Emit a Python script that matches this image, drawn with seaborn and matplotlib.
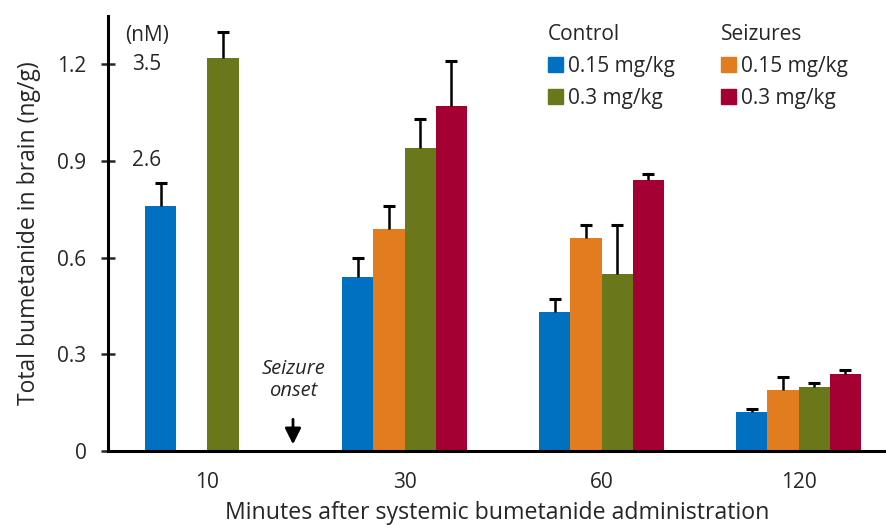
import numpy as np
import pandas as pd
import matplotlib
matplotlib.use("Agg")
import matplotlib.pyplot as plt
from matplotlib.patches import Patch
import seaborn as sns

# ---- data ----
minutes = ["10", "30", "60", "120"]
groups = ["Control 0.15", "Seizures 0.15", "Control 0.3", "Seizures 0.3"]
legend_labels = ["0.15 mg/kg", "0.15 mg/kg", "0.3 mg/kg", "0.3 mg/kg"]
ctrl_015 = [0.76, 0.54, 0.43, 0.12]
seiz_015 = [np.nan, 0.69, 0.66, 0.19]
ctrl_03 = [1.22, 0.94, 0.55, 0.20]
seiz_03 = [np.nan, 1.07, 0.84, 0.24]
ctrl_015_err = [0.07, 0.06, 0.04, 0.01]
seiz_015_err = [np.nan, 0.07, 0.04, 0.04]
ctrl_03_err = [0.08, 0.09, 0.15, 0.01]
seiz_03_err = [np.nan, 0.14, 0.02, 0.01]
y_ticks = [0, 0.3, 0.6, 0.9, 1.2]
y_tick_labels = ["0", "0.3", "0.6", "0.9", "1.2"]
nm_labels = ["(nM)", "3.5", "2.6"]
nm_values = [None, 1.2, 0.9]
colors = ["#0070C0", "#E27D1F", "#6A771B", "#A50034"]

values = [ctrl_015, seiz_015, ctrl_03, seiz_03]
errors = [ctrl_015_err, seiz_015_err, ctrl_03_err, seiz_03_err]

rows = []
for g, vals, errs in zip(groups, values, errors):
    for m, v, e in zip(minutes, vals, errs):
        if not np.isnan(v):
            rows.append({"Minutes": m, "Group": g, "Value": v, "Err": e})
df = pd.DataFrame(rows)

sns.set_style("white")
plt.rcParams["font.family"] = ["Open Sans", "DejaVu Sans"]

FS = 15

fig = plt.figure(figsize=(8.86, 5.25), dpi=100)
ax = fig.add_axes([108 / 886, 74 / 525, 778 / 886, 435 / 525])

sns.barplot(data=df, x="Minutes", y="Value", hue="Group", order=minutes,
            hue_order=groups, palette=colors, width=0.63, errorbar=None,
            saturation=1, linewidth=0, ax=ax, legend=False)

# error bars (upper only) placed at the bars drawn by seaborn
bar_containers = list(ax.containers)
for gi, cont in enumerate(bar_containers):
    g = groups[gi]
    sub = df[df["Group"] == g]
    present = [m for m in minutes if m in set(sub["Minutes"])]
    sub = sub.set_index("Minutes").reindex(present)
    for bar, (m, r) in zip(cont, sub.iterrows()):
        xc = bar.get_x() + bar.get_width() / 2
        h = bar.get_height()
        eb = ax.errorbar([xc], [h], yerr=[[0], [r["Err"]]], fmt="none",
                         ecolor="black", elinewidth=1.8, capsize=4.3,
                         capthick=2.2, zorder=3)
        for cl in eb[1]:
            if np.allclose(cl.get_ydata(), h):
                cl.set_visible(False)

ax.set_xlim(-0.505, 3.444)
ax.set_ylim(0, 1.349)
ax.set_yticks(y_ticks)
ax.set_yticklabels(y_tick_labels)
ax.tick_params(axis="y", direction="inout", length=10, width=1.8,
               labelsize=FS, pad=10.5, left=True)
ax.tick_params(axis="x", length=0, labelsize=FS, pad=15)
for s in ["top", "right"]:
    ax.spines[s].set_visible(False)
for s in ["left", "bottom"]:
    ax.spines[s].set_linewidth(2.2)
    ax.spines[s].set_color("black")
ax.set_xlabel("Minutes after systemic bumetanide administration",
              fontsize=16.7, labelpad=6)
ax.set_ylabel("Total bumetanide in brain (ng/g)", fontsize=16.5, labelpad=12)

# secondary nM labels
ax.text(-0.307, 1.289, nm_labels[0], ha="center", va="center", fontsize=FS)
for lab, v in zip(nm_labels[1:], nm_values[1:]):
    ax.text(-0.307, v, lab, ha="center", va="center", fontsize=FS)

# seizure onset annotation
ax.text(0.434, 0.22, "Seizure\nonset", ha="center", va="center",
        fontsize=14.5, style="italic", linespacing=1.15)
ax.annotate("", xy=(0.434, 0.012), xytext=(0.434, 0.107),
            arrowprops=dict(arrowstyle="-|>", color="black", lw=2,
                            mutation_scale=24))

# legends
h1 = [Patch(color=colors[0]), Patch(color=colors[2])]
h2 = [Patch(color=colors[1]), Patch(color=colors[3])]
common = dict(loc="upper left", frameon=False, fontsize=FS, title_fontsize=FS,
              handlelength=0.72, handleheight=0.72, handletextpad=0.25,
              labelspacing=0.52, borderpad=0, borderaxespad=0,
              alignment="left")
leg1 = ax.legend(h1, [legend_labels[0], legend_labels[2]], title="Control",
                 bbox_to_anchor=(0.565, 0.981), **common)
ax.add_artist(leg1)
leg2 = ax.legend(h2, [legend_labels[1], legend_labels[3]], title="Seizures",
                 bbox_to_anchor=(0.788, 0.981), **common)

fig.savefig("out.png", dpi=100)
